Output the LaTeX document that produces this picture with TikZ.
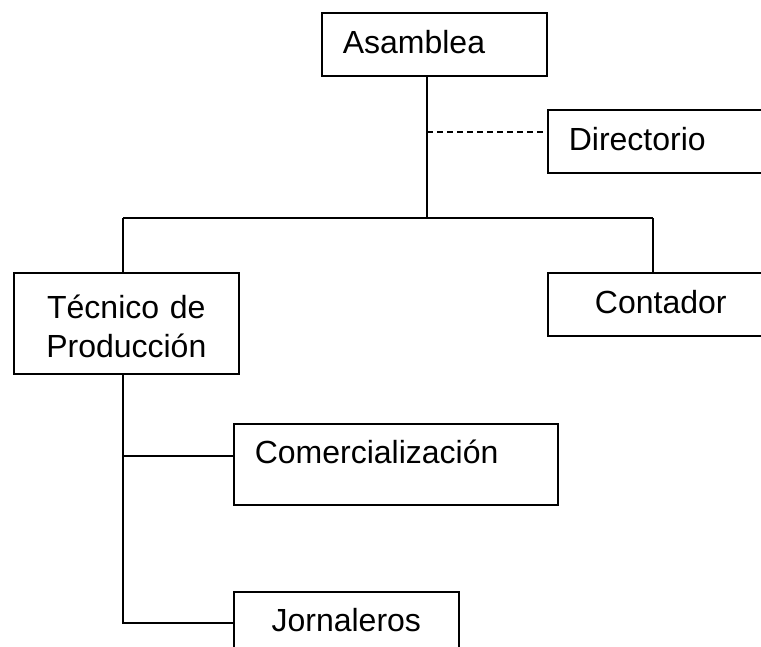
\documentclass[tikz,border=0pt]{standalone}
\usepackage{fontspec}
\setmainfont{Liberation Sans}

\begin{document}
\begin{tikzpicture}[x=1pt,y=-1pt,
  box/.style={draw, line width=1.6pt, rectangle, anchor=north west, inner ysep=0pt,
    font=\fontsize{32}{39}\selectfont, text height=41pt, text depth=22pt},
  leftbox/.style={box, inner xsep=21pt, align=left},
  midbox/.style={box, inner xsep=0pt, align=center},
  link/.style={line width=1.6pt},
  dashlink/.style={line width=1.3pt, dash pattern=on 6pt off 4pt}]
  \useasboundingbox (0,0) rectangle (761,646);
  \node[leftbox, text width=183pt] (asamblea) at (321,12) {Asamblea};
  \node[leftbox, text width=184pt] (directorio) at (547,109) {Directorio};
  \node[midbox, text width=225pt, text height=46pt, text depth=55pt] (tecnico) at (13,272) {Técnico de\\Producción};
  \node[midbox, text width=226pt] (contador) at (547,272) {Contador};
  \node[leftbox, text width=282pt, text height=40pt, text depth=41pt] (comercializacion) at (233,423) {Comercialización};
  \node[midbox, text width=225pt, text height=40pt] (jornaleros) at (233,591) {Jornaleros};
  \coordinate (barL) at (123,218);
  \coordinate (barR) at (653,218);
  \coordinate (barM) at (427,218);
  \coordinate (dirJ) at (427,132);
  \coordinate (comJ) at (123,456);
  \coordinate (jorJ) at (123,623);
  \draw[link] (asamblea.south -| barM) -- (barM);
  \draw[link] (barL) -- (barR);
  \draw[link] (barL) -- (barL |- tecnico.north);
  \draw[link] (barR) -- (barR |- contador.north);
  \draw[dashlink] (dirJ) -- (dirJ -| directorio.west);
  \draw[link] (tecnico.south -| comJ) -- (jorJ) -- (jorJ -| jornaleros.west);
  \draw[link] (comJ) -- (comJ -| comercializacion.west);
\end{tikzpicture}
\end{document}
